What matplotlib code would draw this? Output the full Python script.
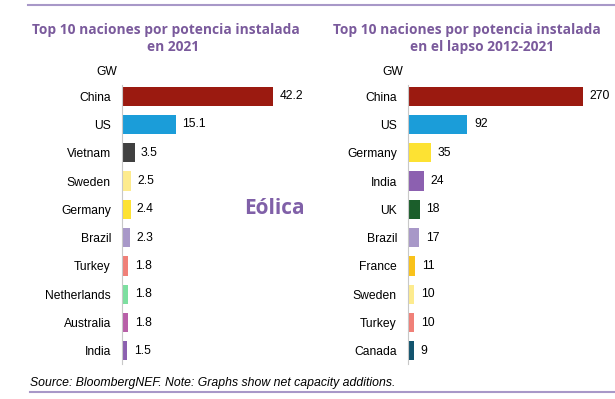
import matplotlib.pyplot as plt
from matplotlib.lines import Line2D

plt.rcParams['font.family'] = ['Liberation Sans', 'DejaVu Sans']

# datos
paises_2021 = ['China', 'US', 'Vietnam', 'Sweden', 'Germany', 'Brazil',
               'Turkey', 'Netherlands', 'Australia', 'India']
gw_2021 = [42.2, 15.1, 3.5, 2.5, 2.4, 2.3, 1.8, 1.8, 1.8, 1.5]
colores_2021 = ['#9b1a10', '#1b9dd9', '#404040', '#fdeb8e', '#fde233', '#a898c8',
                '#f08078', '#7ddfa0', '#b860a8', '#8c60b0']

paises_acum = ['China', 'US', 'Germany', 'India', 'UK', 'Brazil',
               'France', 'Sweden', 'Turkey', 'Canada']
gw_acum = [270, 92, 35, 24, 18, 17, 11, 10, 10, 9]
colores_acum = ['#9b1a10', '#1b9dd9', '#fde233', '#8c60b0', '#1b5e2b', '#a898c8',
                '#f9c21a', '#fdeb8e', '#f08078', '#13546e']

titulo_izq = ['Top 10 naciones por potencia instalada', 'en 2021']
titulo_der = ['Top 10 naciones por potencia instalada', 'en el lapso 2012-2021']
morado = '#7a5a9c'

W, H = 615, 399
fig = plt.figure(figsize=(W / 100, H / 100), dpi=100)


def panel(x0, ancho, xmax, paises, valores, colores, fmt):
    ax = fig.add_axes([x0 / W, 1 - 365 / H, ancho / W, (365 - 82) / H])
    y = range(len(paises))
    ax.barh(y, valores, height=0.68, color=colores)
    for yi, v in zip(y, valores):
        ax.text(v + xmax * 0.035, yi, fmt % v, va='center', ha='left', fontsize=8.7)
    ax.set_yticks(list(y))
    ax.set_yticklabels(paises, fontsize=8.7)
    ax.set_ylim(9.5, -0.5)
    ax.set_xlim(0, xmax)
    ax.set_xticks([])
    ax.tick_params(axis='y', length=0, pad=8)
    for s in ['top', 'right', 'bottom']:
        ax.spines[s].set_visible(False)
    ax.spines['left'].set_color('#c8c8c8')
    ax.spines['left'].set_bounds(-0.4, 9.45)
    ax.text(-0.025, 1.015, 'GW', transform=ax.transAxes, ha='right', va='bottom',
            fontsize=8.7)
    return ax


panel(122, 179, 50, paises_2021, gw_2021, colores_2021, '%.1f')
panel(408, 194, 300, paises_acum, gw_acum, colores_acum, '%d')

fuente_titulo = dict(fontsize=9.9, fontweight='bold', color=morado,
                     family=['Open Sans', 'DejaVu Sans'], ha='center', va='center')
fig.text(166 / W, 1 - 30 / H, titulo_izq[0], **fuente_titulo)
fig.text(173 / W, 1 - 47 / H, titulo_izq[1], **fuente_titulo)
fig.text(467 / W, 1 - 30 / H, titulo_der[0], **fuente_titulo)
fig.text(482 / W, 1 - 47 / H, titulo_der[1], **fuente_titulo)

fig.text(274 / W, 1 - 209 / H, 'Eólica', ha='center', va='center', fontsize=15,
         fontweight='bold', color='#8060a8', family=['Open Sans', 'DejaVu Sans'])

fig.text(30 / W, 1 - 383 / H,
         'Source: BloombergNEF. Note: Graphs show net capacity additions.',
         ha='left', va='center', fontsize=8.8, style='italic')

fig.add_artist(Line2D([28 / W, 1], [1 - 5 / H, 1 - 5 / H], color='#a898c8', lw=1.5))
fig.add_artist(Line2D([30 / W, 1], [1 - 392 / H, 1 - 392 / H], color='#a898c8', lw=1.5))

fig.savefig('out.png', dpi=100)
